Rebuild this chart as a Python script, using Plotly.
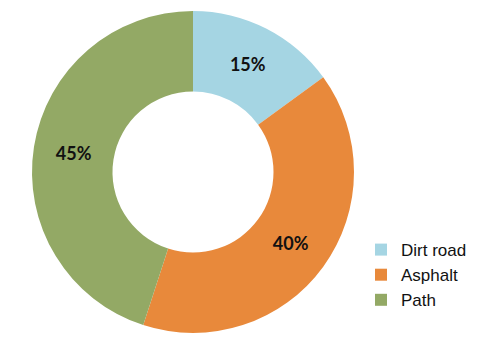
import plotly.graph_objects as go

labels = ["Dirt road", "Asphalt", "Path"]
values = [15, 40, 45]
colors = ["#A5D5E3", "#E8893B", "#93A965"]

W, H = 500, 350
fig = go.Figure(go.Pie(
    labels=labels,
    values=values,
    hole=0.5,
    sort=False,
    direction="clockwise",
    rotation=0,
    marker=dict(colors=colors, line=dict(width=0)),
    texttemplate="%{percent:.0%}",
    textposition="inside",
    insidetextorientation="horizontal",
    textfont=dict(family="Lato", size=18, color="#111111", weight="bold"),
    domain=dict(x=[32 / W, 354 / W], y=[(H - 333) / H, (H - 11) / H]),
))
fig.update_layout(
    width=W, height=H,
    margin=dict(l=0, r=0, t=0, b=0),
    paper_bgcolor="white",
    showlegend=True,
    legend=dict(
        x=0.722, y=0.337, xanchor="left", yanchor="top",
        itemwidth=30,
        font=dict(family="Liberation Sans", size=17, color="#111111"),
        bgcolor="rgba(0,0,0,0)",
    ),
)
fig.write_html("out.html")
